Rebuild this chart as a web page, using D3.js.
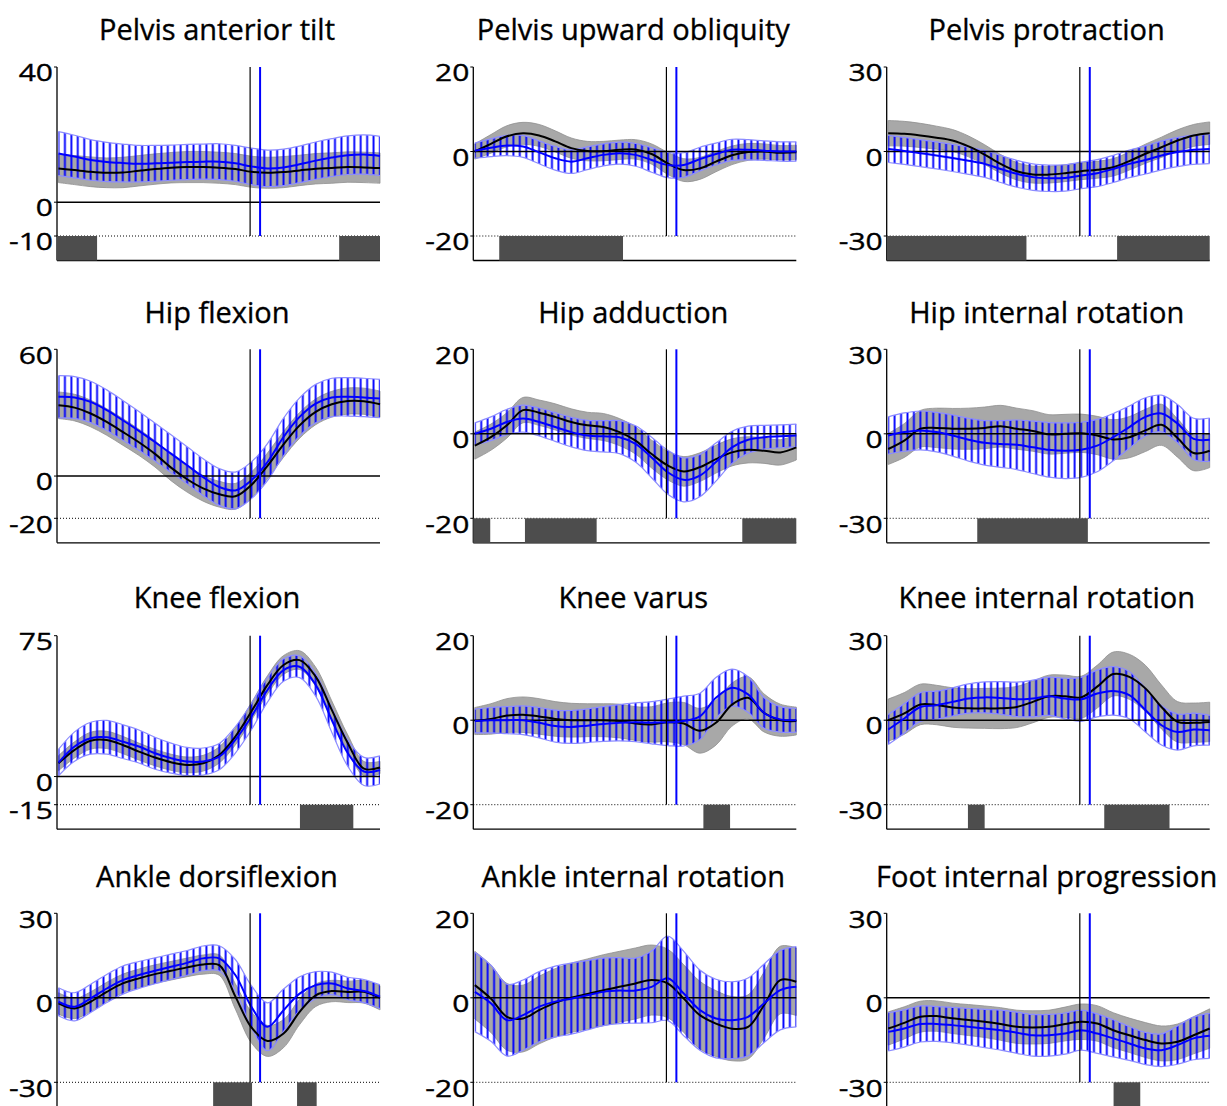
<!DOCTYPE html>
<html>
<head>
<meta charset="utf-8">
<script src="https://cdn.jsdelivr.net/npm/d3@7"></script>
<style>
  body { margin: 0; background: #fff; }
  text { font-family: "Open Sans", sans-serif; fill: #000; stroke: #000; stroke-width: 0.35px; }
</style>
</head>
<body>
<svg id="chart" width="1227" height="1106"></svg>
<script>
// % of gait cycle where the curves were sampled
var pct = [0,5,10,15,20,25,30,35,40,45,50,55,60,65,70,75,80,85,90,95,100];

var titles = ["Pelvis anterior tilt", "Pelvis upward obliquity", "Pelvis protraction",
  "Hip flexion", "Hip adduction", "Hip internal rotation",
  "Knee flexion", "Knee varus", "Knee internal rotation",
  "Ankle dorsiflexion", "Ankle internal rotation", "Foot internal progression"];

// top, zero, bottom tick of each panel
var yTicks = [[40,0,-10],[20,0,-20],[30,0,-30],[60,0,-20],[20,0,-20],[30,0,-30],
  [75,0,-15],[20,0,-20],[30,0,-30],[30,0,-30],[20,0,-20],[30,0,-30]];

// grey group (mean and SD), one row per panel
var ctrlMean = [
  [10,9.5,9,8.7,8.8,9.3,9.8,10.2,10.4,10.4,10.2,9.8,9.0,8.7,8.9,9.4,9.9,10.1,10.4,10.3,10.1],
  [0,1.8,3.6,4.3,3.8,2.4,0.8,0.1,0.1,0.4,0.5,-0.6,-2.8,-4.4,-4.0,-2.4,-0.9,-0.1,0,-0.3,-0.2],
  [6.5,6.3,5.7,4.9,3.9,1.8,-1.1,-4.4,-7,-8.2,-8.2,-7.7,-7,-6.5,-5.6,-3.4,-0.8,1.5,3.9,5.7,6.5],
  [33.5,32.4,29.6,25.6,20.9,16,10.5,4,-1.5,-5.8,-8.6,-9.6,-4.2,4.8,15,24,30.4,34,35.5,35.4,34],
  [-2.8,-0.8,2,5.6,5.0,4,2.8,2,1.6,0.4,-1.6,-4.8,-7.5,-8.9,-7.9,-6,-4.4,-3.8,-4,-4.4,-3.2],
  [-5.4,-2.4,1.8,2.1,1.8,1.8,2.1,2.7,1.8,1,-0.2,0,0.2,-0.6,-2,-1.2,1.2,3.2,-1.5,-6.8,-6],
  [7.1,14.2,19.1,19.5,16.8,13.3,10.1,7.6,6.2,7.1,11.5,21.3,34.6,48.8,59.4,62,53.2,35.5,17.7,4.2,4.8],
  [-0.2,0.3,1.1,1.3,0.9,0.3,0,0,0,-0.2,-0.8,-1,-0.5,-0.8,-2.5,-0.6,3.7,5.3,1.7,0,-0.2],
  [0,2.4,5.6,5.4,4.5,4.2,4.2,4.2,4.7,6.5,8.5,8.5,8.1,11.9,16.4,15.4,11.3,4.7,-0.6,-0.9,-0.6],
  [-2,-3.8,-1.4,2.1,5.1,6.9,8.4,9.6,10.8,11.8,11.6,0.5,-10.5,-15.3,-12.7,-5,0.9,2.4,2.1,2.1,0],
  [3,-0.2,-4.5,-4.9,-2.9,-1.2,0,0.9,1.8,2.6,3.4,4.2,3.4,-0.2,-4.1,-6.1,-7.3,-6.9,-1.7,4.2,3.8],
  [-10.9,-8.9,-6.7,-6.5,-7.3,-7.9,-8.5,-9.3,-10.3,-10.5,-10.3,-9.3,-8.5,-9.1,-11.5,-13.3,-15,-16.2,-15.6,-13.3,-10.9]
];
var ctrlSd = [
  [4.2,4.3,4.4,4.4,4.5,4.5,4.5,4.5,4.6,4.6,4.6,4.6,4.6,4.6,4.6,4.5,4.5,4.5,4.5,4.5,4.5],
  [1.8,2.2,2.5,2.6,2.6,2.5,2.4,2.3,2.3,2.3,2.3,2.4,2.6,2.7,2.6,2.4,2.2,2.0,1.8,1.7,1.7],
  [4.5,4.4,4.3,4.1,3.9,3.7,3.5,3.3,3.1,3.0,3.0,3.0,3.0,3.0,3.1,3.2,3.4,3.6,3.8,3.9,4.0],
  [6.3,6.3,6.3,6.3,6.3,6.2,6.2,6.2,6.1,6.1,6.1,6.1,6.1,6.1,6.1,6.1,6.1,6.1,6.2,6.2,6.2],
  [3.2,3.1,3.0,3.0,3.0,3.1,3.1,3.1,3.2,3.2,3.2,3.3,3.4,3.5,3.4,3.3,3.2,3.1,3.0,3.0,3.0],
  [5.5,6,6.5,7,7.2,7.3,7.4,7.4,7.3,7.2,7,6.9,6.8,6.8,7,7.3,7.5,7.3,6.8,6.3,6],
  [4,4.3,4.5,4.6,4.6,4.5,4.4,4.3,4.2,4.2,4.3,4.5,4.7,4.9,5,5,5,4.8,4.4,3.8,3.3],
  [3.2,3.6,4,4.2,4.2,4.1,4,3.9,3.9,4,4,4.2,4.6,5,5.3,5.3,5.1,5,4.5,3.8,3.3],
  [7.5,7.4,7.2,7,7,7,7.1,7.2,7.3,7.4,7.5,7.5,7.5,7.6,7.8,8,8.2,7.8,7.2,7,7],
  [3.8,3.6,3.5,3.4,3.3,3.3,3.3,3.3,3.3,3.4,3.6,4.5,5.5,5.5,5,4.5,4,3.8,3.8,4,4.3],
  [8,8,7.9,7.9,8,8.1,8.2,8.3,8.4,8.4,8.4,8.3,8.1,8,8,7.8,7.6,7.6,7.8,8,8],
  [5.9,5.7,5.5,5.4,5.4,5.5,5.6,5.8,5.9,5.9,5.9,6,6.3,6.3,6.2,6.1,6.2,6.2,6.3,6.6,7]
];

// blue group (mean and SD)
var patMean = [
  [14.4,13.5,12.5,11.9,11.6,11.4,11.5,11.7,11.9,12,12,11.5,10.6,10,10.3,11.2,12.3,13.2,13.9,14.1,13.7],
  [0.2,0.9,1.4,1.2,-0.2,-1.6,-2.4,-1.6,-0.8,-0.4,-0.8,-2,-3.2,-3.2,-1.8,-0.6,0.4,0.4,0.2,0,0],
  [0.9,0.2,-0.6,-1.4,-2.3,-3.3,-4.4,-6.2,-7.9,-9.1,-9.5,-9.4,-8.5,-7.7,-6.2,-4.4,-3,-1.4,-0.2,0.6,0.9],
  [37.5,37.2,35.1,31.2,26.4,21.4,16.1,10.6,5.1,-0.5,-5.2,-6.8,-2,6.6,18.5,28,34.3,37.2,37.5,37.2,36.7],
  [0,1.2,2.8,3.6,2.8,1.6,0.4,-0.4,-0.6,-0.8,-2.4,-5.6,-9.1,-10.9,-9.9,-6.7,-3.2,-1.4,-0.8,-0.6,-0.4],
  [-0.6,0.6,1.2,0.6,-0.6,-2.1,-3.2,-3.6,-3.9,-4.8,-5.7,-6,-5.7,-4.2,-1.2,2.4,6,7.2,3.6,-1.8,-2.1],
  [7.4,16,20.4,20.9,18.6,16,12.4,9.8,8,8,10.6,19.5,31.9,46.1,56.7,58.5,48.8,30.1,12.4,2.7,3.5],
  [-0.2,0,0,0,-0.6,-1.4,-1.6,-1.3,-0.9,-0.6,-0.5,-0.6,-0.5,-0.2,0.9,5.3,7.7,6.1,1.7,0.2,0],
  [-3.3,0.6,4.7,5.3,6.5,7.7,8.1,7.9,7.4,7.7,8.5,7.7,7.4,9.5,10.4,8.9,3.6,-1.8,-4.2,-3.3,-3.6],
  [-1.4,-3.2,-0.2,3.3,6.3,8.1,9.6,11,12.4,14,14,8.1,-3.2,-10.3,-4.4,1.5,4.5,5.1,3.3,2.4,0.4],
  [1.4,-1.3,-5.3,-4.1,-2.1,-0.9,-0.2,0.6,1.4,1.7,1.7,2.6,4.6,1,-2.9,-4.9,-5.3,-4.5,-1.3,1.8,2.6],
  [-12.1,-10.9,-9.3,-9.3,-9.7,-10.3,-10.9,-11.5,-12.4,-13.3,-13.3,-12.7,-11.5,-12.7,-14.4,-16.2,-18,-18.6,-16.8,-14.4,-13.5]
];
var patSd = [
  [6.5,6.3,6,5.8,5.6,5.4,5.3,5.2,5.2,5.2,5.3,5.3,5.4,5.4,5.4,5.4,5.5,5.6,5.7,5.8,5.8],
  [1.8,2.1,2.4,2.6,2.7,2.8,2.8,2.7,2.6,2.6,2.7,2.9,3.0,2.9,2.8,2.6,2.5,2.4,2.3,2.3,2.3],
  [4.8,4.8,4.8,4.8,4.8,4.8,4.8,4.8,4.8,4.7,4.7,4.7,4.7,4.8,4.8,4.9,5.0,5.1,5.2,5.2,5.2],
  [10,9.9,9.8,9.6,9.4,9.2,9,8.9,8.8,8.7,8.7,8.7,8.7,8.8,8.9,9,9.1,9.1,9.1,9.1,9.1],
  [2.6,2.8,3,3.2,3.3,3.4,3.5,3.6,3.7,3.9,4.3,4.8,5.2,5.2,5,4.5,3.8,3.2,2.8,2.7,2.7],
  [6.6,6.8,6.9,7,7.3,7.6,7.9,8.3,8.8,9.3,9.7,9.9,9.8,9.3,8.4,7.5,6.8,6.5,6.8,7.3,7.7],
  [7,7.8,8.5,9,9,8.8,8.5,8,7.5,7.2,7,7,7,6.5,6,5.8,6,6.5,7,7.5,7.5],
  [2.8,3,3.2,3.4,3.6,3.8,3.9,4,4.1,4.3,4.6,5,5.5,5.9,5.5,4.8,4.4,4.2,3.6,3,2.8],
  [5.3,5.2,5.1,5,5,5.2,5.5,5.8,6.1,6.5,6.8,7.2,7.8,8.3,8.6,8.4,7.8,7,6.4,5.8,5.3],
  [5,5,5,5,5,4.8,4.6,4.5,4.4,4.4,4.5,5.5,7.5,8.5,7.5,6,4.8,4,4,4.1,4.2],
  [9.4,9,8.5,8.3,8.3,8.4,8.4,8.2,8,7.8,7.7,8.5,10,10,9.5,9.3,9.1,9.2,9.3,9.4,9.5],
  [6.8,6.6,6.4,6.2,6.3,6.5,6.8,7.1,7.3,7.4,7.4,7.3,7.1,7,6.6,6,5.7,5.8,6.8,7.6,8]
];

// toe-off (% gait cycle)
var ctrlToeOff = 59.6, patToeOff = 62.7;

// significant intervals (% gait cycle)
var sigBars = [
  [[0,12],[87.3,100]], [[7.6,46.1]], [[0,43],[71.2,100]],
  [], [[0,4.8],[15.6,37.9],[83.2,100]], [[27.7,62.1]],
  [[75.1,91.7]], [[71.1,79.4]], [[24.8,30],[67.2,87.5]],
  [[48.1,60.2],[74.2,80.3]], [], [[70.1,78.4]]
];

// layout
var colX = [57, 473.3, 886.7];
var rowY = [67, 349.3, 635.7, 913.3];
var titleY = [28, 311.7, 596.7, 875];
var plotW = 323, plotH = 169, stripH = 24.5;

var svg = d3.select('#chart');
var defs = svg.append('defs');

titles.forEach(function(title, i) {
  var col = i % 3, row = Math.floor(i / 3);
  var ax = colX[col], top = rowY[row];
  var ticks = yTicks[i];

  var x = d3.scaleLinear().domain([0, 100]).range([ax + 1.5, ax + plotW]);
  var y = d3.scaleLinear().domain([ticks[2], ticks[0]]).range([top + plotH, top]);
  var yMin = y(ticks[2]), yBot = yMin + stripH;

  var g = svg.append('g');

  // title
  g.append('text')
    .attr('x', ax + 160).attr('y', titleY[row])
    .attr('text-anchor', 'middle').attr('dominant-baseline', 'central')
    .style('font-size', '29px')
    .text(title);

  // hatch pattern for blue band
  var step = (x(100) - x(0)) / 50;
  var pat = defs.append('pattern')
    .attr('id', 'hatch' + i)
    .attr('patternUnits', 'userSpaceOnUse')
    .attr('x', x(0) - step / 2).attr('y', 0)
    .attr('width', step).attr('height', 1106);
  pat.append('line')
    .attr('x1', step / 2).attr('x2', step / 2)
    .attr('y1', 0).attr('y2', 1106)
    .attr('stroke', '#0000ff').attr('stroke-width', 1.9);

  var pts = pct.map(function(p, k) {
    return { p: p, cm: ctrlMean[i][k], cs: ctrlSd[i][k], pm: patMean[i][k], ps: patSd[i][k] };
  });
  var curve = d3.curveCatmullRom.alpha(0.5);

  // grey band
  g.append('path').datum(pts)
    .attr('d', d3.area().curve(curve).x(function(d) { return x(d.p); })
      .y0(function(d) { return y(d.cm - d.cs); }).y1(function(d) { return y(d.cm + d.cs); }))
    .attr('fill', '#a8a8a8').attr('stroke', '#8f8f8f').attr('stroke-width', 0.8);

  // blue hatched band
  g.append('path').datum(pts)
    .attr('d', d3.area().curve(curve).x(function(d) { return x(d.p); })
      .y0(function(d) { return y(d.pm - d.ps); }).y1(function(d) { return y(d.pm + d.ps); }))
    .attr('fill', 'url(#hatch' + i + ')');
  [1, -1].forEach(function(s) {
    g.append('path').datum(pts)
      .attr('d', d3.line().curve(curve).x(function(d) { return x(d.p); })
        .y(function(d) { return y(d.pm + s * d.ps); }))
      .attr('fill', 'none').attr('stroke', '#8c8cff').attr('stroke-width', 1.2);
  });

  // axes
  g.append('line').attr('x1', ax).attr('x2', ax).attr('y1', top).attr('y2', yBot)
    .attr('stroke', '#000').attr('stroke-width', 1.3);
  g.append('line').attr('x1', ax).attr('x2', x(100)).attr('y1', yBot).attr('y2', yBot)
    .attr('stroke', '#000').attr('stroke-width', 1.3);
  ticks.forEach(function(t) {
    g.append('line').attr('x1', ax - 3).attr('x2', ax).attr('y1', y(t)).attr('y2', y(t))
      .attr('stroke', '#000').attr('stroke-width', 1);
    g.append('text')
      .attr('transform', 'translate(' + (ax - 4) + ',' + (y(t) + 5) + ') scale(1.25,1)')
      .attr('text-anchor', 'end').attr('dominant-baseline', 'central')
      .style('font-size', '24px')
      .text(t);
  });

  // dotted line at bottom of range + significance bars
  g.append('line').attr('x1', ax).attr('x2', x(100)).attr('y1', yMin).attr('y2', yMin)
    .attr('stroke', '#000').attr('stroke-width', 1).attr('stroke-dasharray', '1,2');
  g.selectAll('rect.sig').data(sigBars[i]).enter().append('rect')
    .attr('class', 'sig')
    .attr('x', function(d) { return d[0] === 0 ? ax : x(d[0]); })
    .attr('width', function(d) { return x(d[1]) - (d[0] === 0 ? ax : x(d[0])); })
    .attr('y', yMin).attr('height', stripH)
    .attr('fill', '#4d4d4d');

  // zero line
  g.append('line').attr('x1', ax).attr('x2', x(100)).attr('y1', y(0)).attr('y2', y(0))
    .attr('stroke', '#000').attr('stroke-width', 1.6);

  // mean curves
  g.append('path').datum(pts)
    .attr('d', d3.line().curve(curve).x(function(d) { return x(d.p); }).y(function(d) { return y(d.cm); }))
    .attr('fill', 'none').attr('stroke', '#000').attr('stroke-width', 2);
  g.append('path').datum(pts)
    .attr('d', d3.line().curve(curve).x(function(d) { return x(d.p); }).y(function(d) { return y(d.pm); }))
    .attr('fill', 'none').attr('stroke', '#0000ff').attr('stroke-width', 2);

  // toe-off lines
  g.append('line').attr('x1', x(ctrlToeOff)).attr('x2', x(ctrlToeOff)).attr('y1', top).attr('y2', yMin)
    .attr('stroke', '#000').attr('stroke-width', 1.2);
  g.append('line').attr('x1', x(patToeOff)).attr('x2', x(patToeOff)).attr('y1', top).attr('y2', yMin)
    .attr('stroke', '#0000ff').attr('stroke-width', 2);
});
</script>
</body>
</html>
